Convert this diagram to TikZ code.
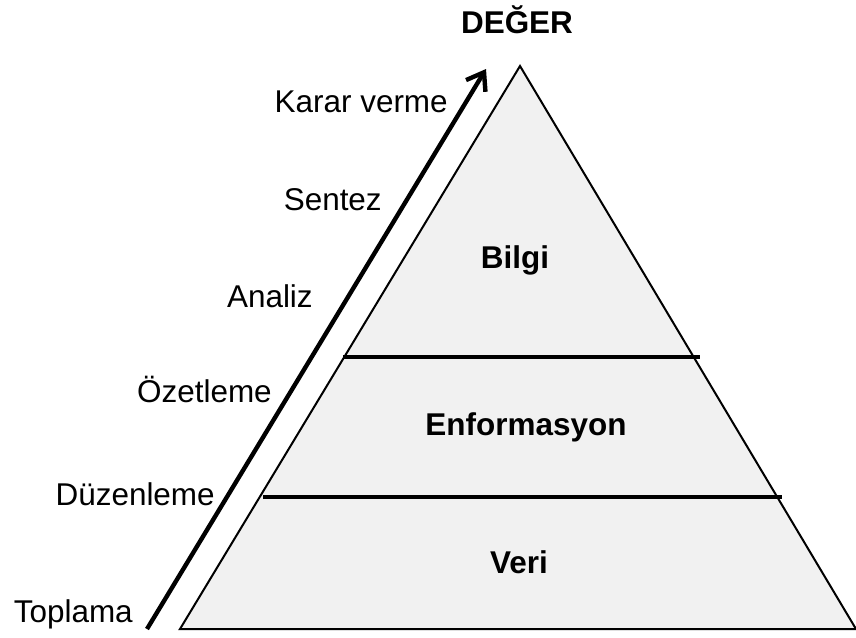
\documentclass[tikz,border=0pt]{standalone}
\usepackage{fontspec}
\setmainfont{Liberation Sans}
\usetikzlibrary{arrows.meta}
\definecolor{pyrfill}{HTML}{F1F1F1}
\begin{document}
\begin{tikzpicture}[x=0.75pt,y=-0.75pt,
		step label/.style={anchor=base east,inner sep=0pt,font=\fontsize{23.6}{28}\selectfont},
		level label/.style={anchor=base,inner sep=0pt,font=\fontsize{23.6}{28}\selectfont\bfseries},
		layer line/.style={line width=3pt}]
			\useasboundingbox (0,0) rectangle (856,637);
			% pyramid
			\coordinate (apex) at (520,66);
			\coordinate (baseL) at (180,629);
			\coordinate (baseR) at (856,629);
			\draw [fill=pyrfill,line width=1.5pt,line join=miter] (apex) -- (baseR) -- (baseL) -- cycle;
			\draw [layer line] (343,357) -- (700,357);
			\draw [layer line] (263,497) -- (782,497);
			% levels
			\node [level label] (deger) at (517,33) {DEĞER};
			\node [level label] (bilgi) at (515,268) {Bilgi};
			\node [level label] (enfo) at (526,435) {Enformasyon};
			\node [level label] (veri) at (519,573) {Veri};
			% steps
			\coordinate (arrowS) at (147,629);
			\coordinate (arrowE) at (486,69);
			\draw [line width=3.3pt,-{Straight Barb[length=12pt,width=17pt,line width=3.3pt]}] (arrowS) -- (arrowE);
			\node [step label] (karar) at (448,112) {Karar verme};
			\node [step label] (sentez) at (382,210) {Sentez};
			\node [step label] (analiz) at (313,307) {Analiz};
			\node [step label] (ozet) at (272,402) {Özetleme};
			\node [step label] (duzen) at (215,505) {Düzenleme};
			\node [step label] (topla) at (133,622) {Toplama};
		\end{tikzpicture}
\end{document}
